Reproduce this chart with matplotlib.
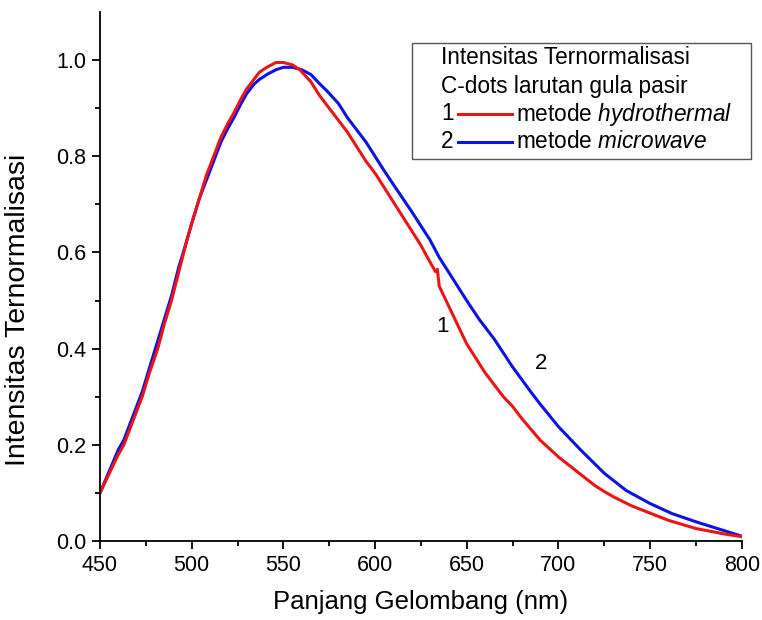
import matplotlib
matplotlib.use("Agg")
import matplotlib.pyplot as plt
from matplotlib.ticker import MultipleLocator, FixedLocator
from matplotlib.patches import Rectangle
from matplotlib.lines import Line2D

plt.rcParams['font.family'] = ['Liberation Sans', 'DejaVu Sans']
plt.rcParams['mathtext.fontset'] = 'custom'
plt.rcParams['mathtext.it'] = 'Liberation Sans:italic'
plt.rcParams['mathtext.rm'] = 'Liberation Sans'

# wavelength (nm) and normalised intensity
wl_hydro = [450, 455, 460, 463, 467, 473, 477, 481.5, 485, 489, 493, 497, 500,
            504, 508, 512, 516, 520, 523, 527, 530, 534, 537, 541, 546, 550,
            555, 559, 565, 570, 575, 580, 585, 590, 595, 600, 605, 610, 615,
            620, 625, 630, 633, 634, 635, 640, 645, 650, 655, 660, 665, 670,
            675, 680, 690, 700, 710, 720, 725, 730, 740, 750, 760, 775, 790, 800]
int_hydro = [0.10, 0.14, 0.18, 0.20, 0.24, 0.30, 0.35, 0.40, 0.45, 0.50, 0.56,
             0.62, 0.66, 0.71, 0.76, 0.80, 0.84, 0.87, 0.89, 0.92, 0.94, 0.96,
             0.975, 0.985, 0.995, 0.995, 0.99, 0.98, 0.955, 0.925, 0.90, 0.875,
             0.85, 0.82, 0.79, 0.765, 0.735, 0.705, 0.675, 0.645, 0.615, 0.58,
             0.56, 0.565, 0.53, 0.49, 0.45, 0.41, 0.38, 0.35, 0.325, 0.30,
             0.28, 0.255, 0.21, 0.175, 0.145, 0.115, 0.103, 0.092, 0.073,
             0.058, 0.043, 0.026, 0.015, 0.009]

wl_micro = [450, 455, 460, 463, 467, 473, 477, 481, 485, 489, 493, 497, 500,
            504, 508, 512, 516, 520, 523, 527, 530, 534, 537, 541, 546, 550,
            555, 560, 565, 570, 574, 580, 585, 590, 595, 600, 605, 612, 620,
            630, 635, 640, 645, 650, 657, 665, 675, 685, 690, 700, 712, 725,
            737, 750, 762, 775, 790, 800]
int_micro = [0.10, 0.145, 0.19, 0.21, 0.25, 0.31, 0.36, 0.41, 0.46, 0.51, 0.57,
             0.62, 0.66, 0.71, 0.75, 0.79, 0.83, 0.86, 0.88, 0.91, 0.93, 0.95,
             0.96, 0.97, 0.98, 0.985, 0.985, 0.98, 0.97, 0.95, 0.935, 0.91,
             0.88, 0.855, 0.83, 0.80, 0.77, 0.73, 0.685, 0.626, 0.59, 0.56,
             0.53, 0.50, 0.46, 0.42, 0.362, 0.31, 0.285, 0.238, 0.19, 0.141,
             0.105, 0.078, 0.057, 0.040, 0.022, 0.01]

legend_title = ["Intensitas Ternormalisasi", "C-dots larutan gula pasir"]
legend_labels = ["metode $\\mathit{hydrothermal}$", "metode $\\mathit{microwave}$"]
red = '#ec1414'
blue = '#0c12e4'

W, H = 762, 620
fig = plt.figure(figsize=(W / 100, H / 100), dpi=100)
ax = fig.add_axes([100 / W, 1 - 541 / H, 641.7 / W, 529 / H])

ax.plot(wl_micro, int_micro, color=blue, lw=2.2)
ax.plot(wl_hydro, int_hydro, color=red, lw=2.2)

ax.set_xlim(450, 800)
ax.set_ylim(0, 1.1)
ax.xaxis.set_major_locator(MultipleLocator(50))
ax.xaxis.set_minor_locator(MultipleLocator(25))
ax.yaxis.set_major_locator(FixedLocator([0, 0.2, 0.4, 0.6, 0.8, 1.0]))
ax.yaxis.set_minor_locator(FixedLocator([0.1, 0.3, 0.5, 0.7, 0.9]))
ax.yaxis.set_major_formatter(matplotlib.ticker.FormatStrFormatter('%.1f'))
for s in ['top', 'right']:
    ax.spines[s].set_visible(False)
for s in ['left', 'bottom']:
    ax.spines[s].set_linewidth(1.3)
ax.tick_params(which='major', direction='out', length=6, width=1.3, labelsize=15.5, pad=4)
ax.tick_params(which='minor', direction='out', length=3.5, width=1.3)

ax.set_xlabel("Panjang Gelombang (nm)", fontsize=18.5, labelpad=10)
ax.set_ylabel("Intensitas Ternormalisasi", fontsize=20.5)
ax.yaxis.set_label_coords(-0.108, 0.437)

ax.text(636.6, 0.446, "1", fontsize=16, ha='center', va='center')
ax.text(690.3, 0.369, "2", fontsize=16, ha='center', va='center')

# legend box drawn in figure pixels
def fx(px):
    return px / W

def fy(py):
    return 1 - py / H

fig.patches.append(Rectangle((fx(412), fy(159)), fx(751) - fx(412), fy(43) - fy(159),
                             transform=fig.transFigure, fill=False, ec='#555555', lw=1.0))
rows = [58, 86, 114, 142]
for r, t in zip(rows[:2], legend_title):
    fig.text(fx(441), fy(r), t, fontsize=16.3, va='center', ha='left')
for r, num, lab, c in zip(rows[2:], ["1", "2"], legend_labels, [red, blue]):
    fig.text(fx(441), fy(r), num, fontsize=16.3, va='center', ha='left')
    fig.lines.append(Line2D([fx(458), fx(512)], [fy(r), fy(r)], transform=fig.transFigure,
                            color=c, lw=2.2))
    fig.text(fx(516), fy(r), lab, fontsize=16.3, va='center', ha='left')

fig.savefig("out.png", dpi=100)
